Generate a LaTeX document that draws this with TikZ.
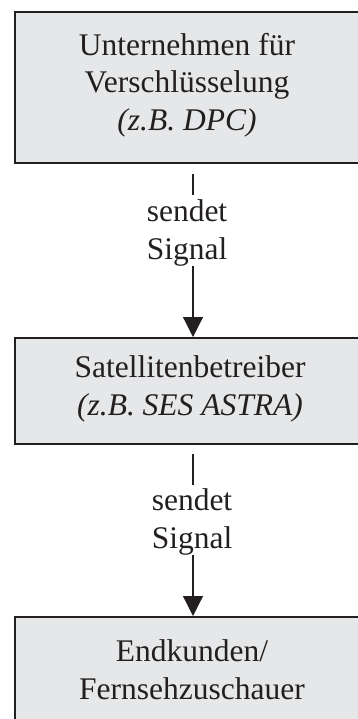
\documentclass[tikz,border=0pt]{standalone}
\usepackage{fontspec}
\setmainfont{Liberation Serif}
\usetikzlibrary{arrows.meta}
\definecolor{boxfill}{HTML}{E6E7E8}
\definecolor{ink}{HTML}{231F20}
\begin{document}
\begin{tikzpicture}[x=1pt,y=-1pt,
  boxshape/.style={draw=ink, fill=boxfill, line width=2pt, inner sep=0pt, anchor=north west},
  lbl/.style={font=\fontsize{31.5}{37.5}\selectfont, text=ink, align=center, inner sep=0pt, anchor=base},
  conn/.style={draw=ink, line width=1.2pt},
  arr/.style={conn, -{Triangle[width=20pt,length=20pt]}}]
\useasboundingbox (0,0) rectangle (358,719);
\clip (0,0) rectangle (358,719);
% boxes
\node[boxshape, minimum width=346pt, minimum height=151pt] (b1) at (14,11) {};
\node[boxshape, minimum width=346pt, minimum height=106pt] (b2) at (14,337) {};
\node[boxshape, minimum width=346pt, minimum height=130pt] (b3) at (14,616) {};
% texts (anchor base = baseline of last line)
\node[lbl] (t1) at (187,130.5) {Unternehmen für\\Verschlüsselung\\\textit{(z.B. DPC)}};
\node[lbl] (t2) at (190,415) {Satellitenbetreiber\\\textit{(z.B. SES ASTRA)}};
\node[lbl] (t3) at (192,699) {Endkunden/\\Fernsehzuschauer};
% connector labels
\node[lbl] (l1) at (187,259) {sendet\\Signal};
\node[lbl] (l2) at (192,548) {sendet\\Signal};
% connectors
\coordinate (c1) at ([xshift=5pt]b1.south);
\coordinate (c2) at ([xshift=5pt]b2.south);
\draw[conn] ([yshift=-10pt]c1) -- ([yshift=-31pt]c1);
\draw[arr] ([xshift=5pt,yshift=71pt]b2.north) -- ([xshift=5pt]b2.north);
\draw[conn] ([yshift=-9pt]c2) -- ([yshift=-40pt]c2);
\draw[arr] ([xshift=5pt,yshift=61pt]b3.north) -- ([xshift=5pt]b3.north);
\end{tikzpicture}
\end{document}
